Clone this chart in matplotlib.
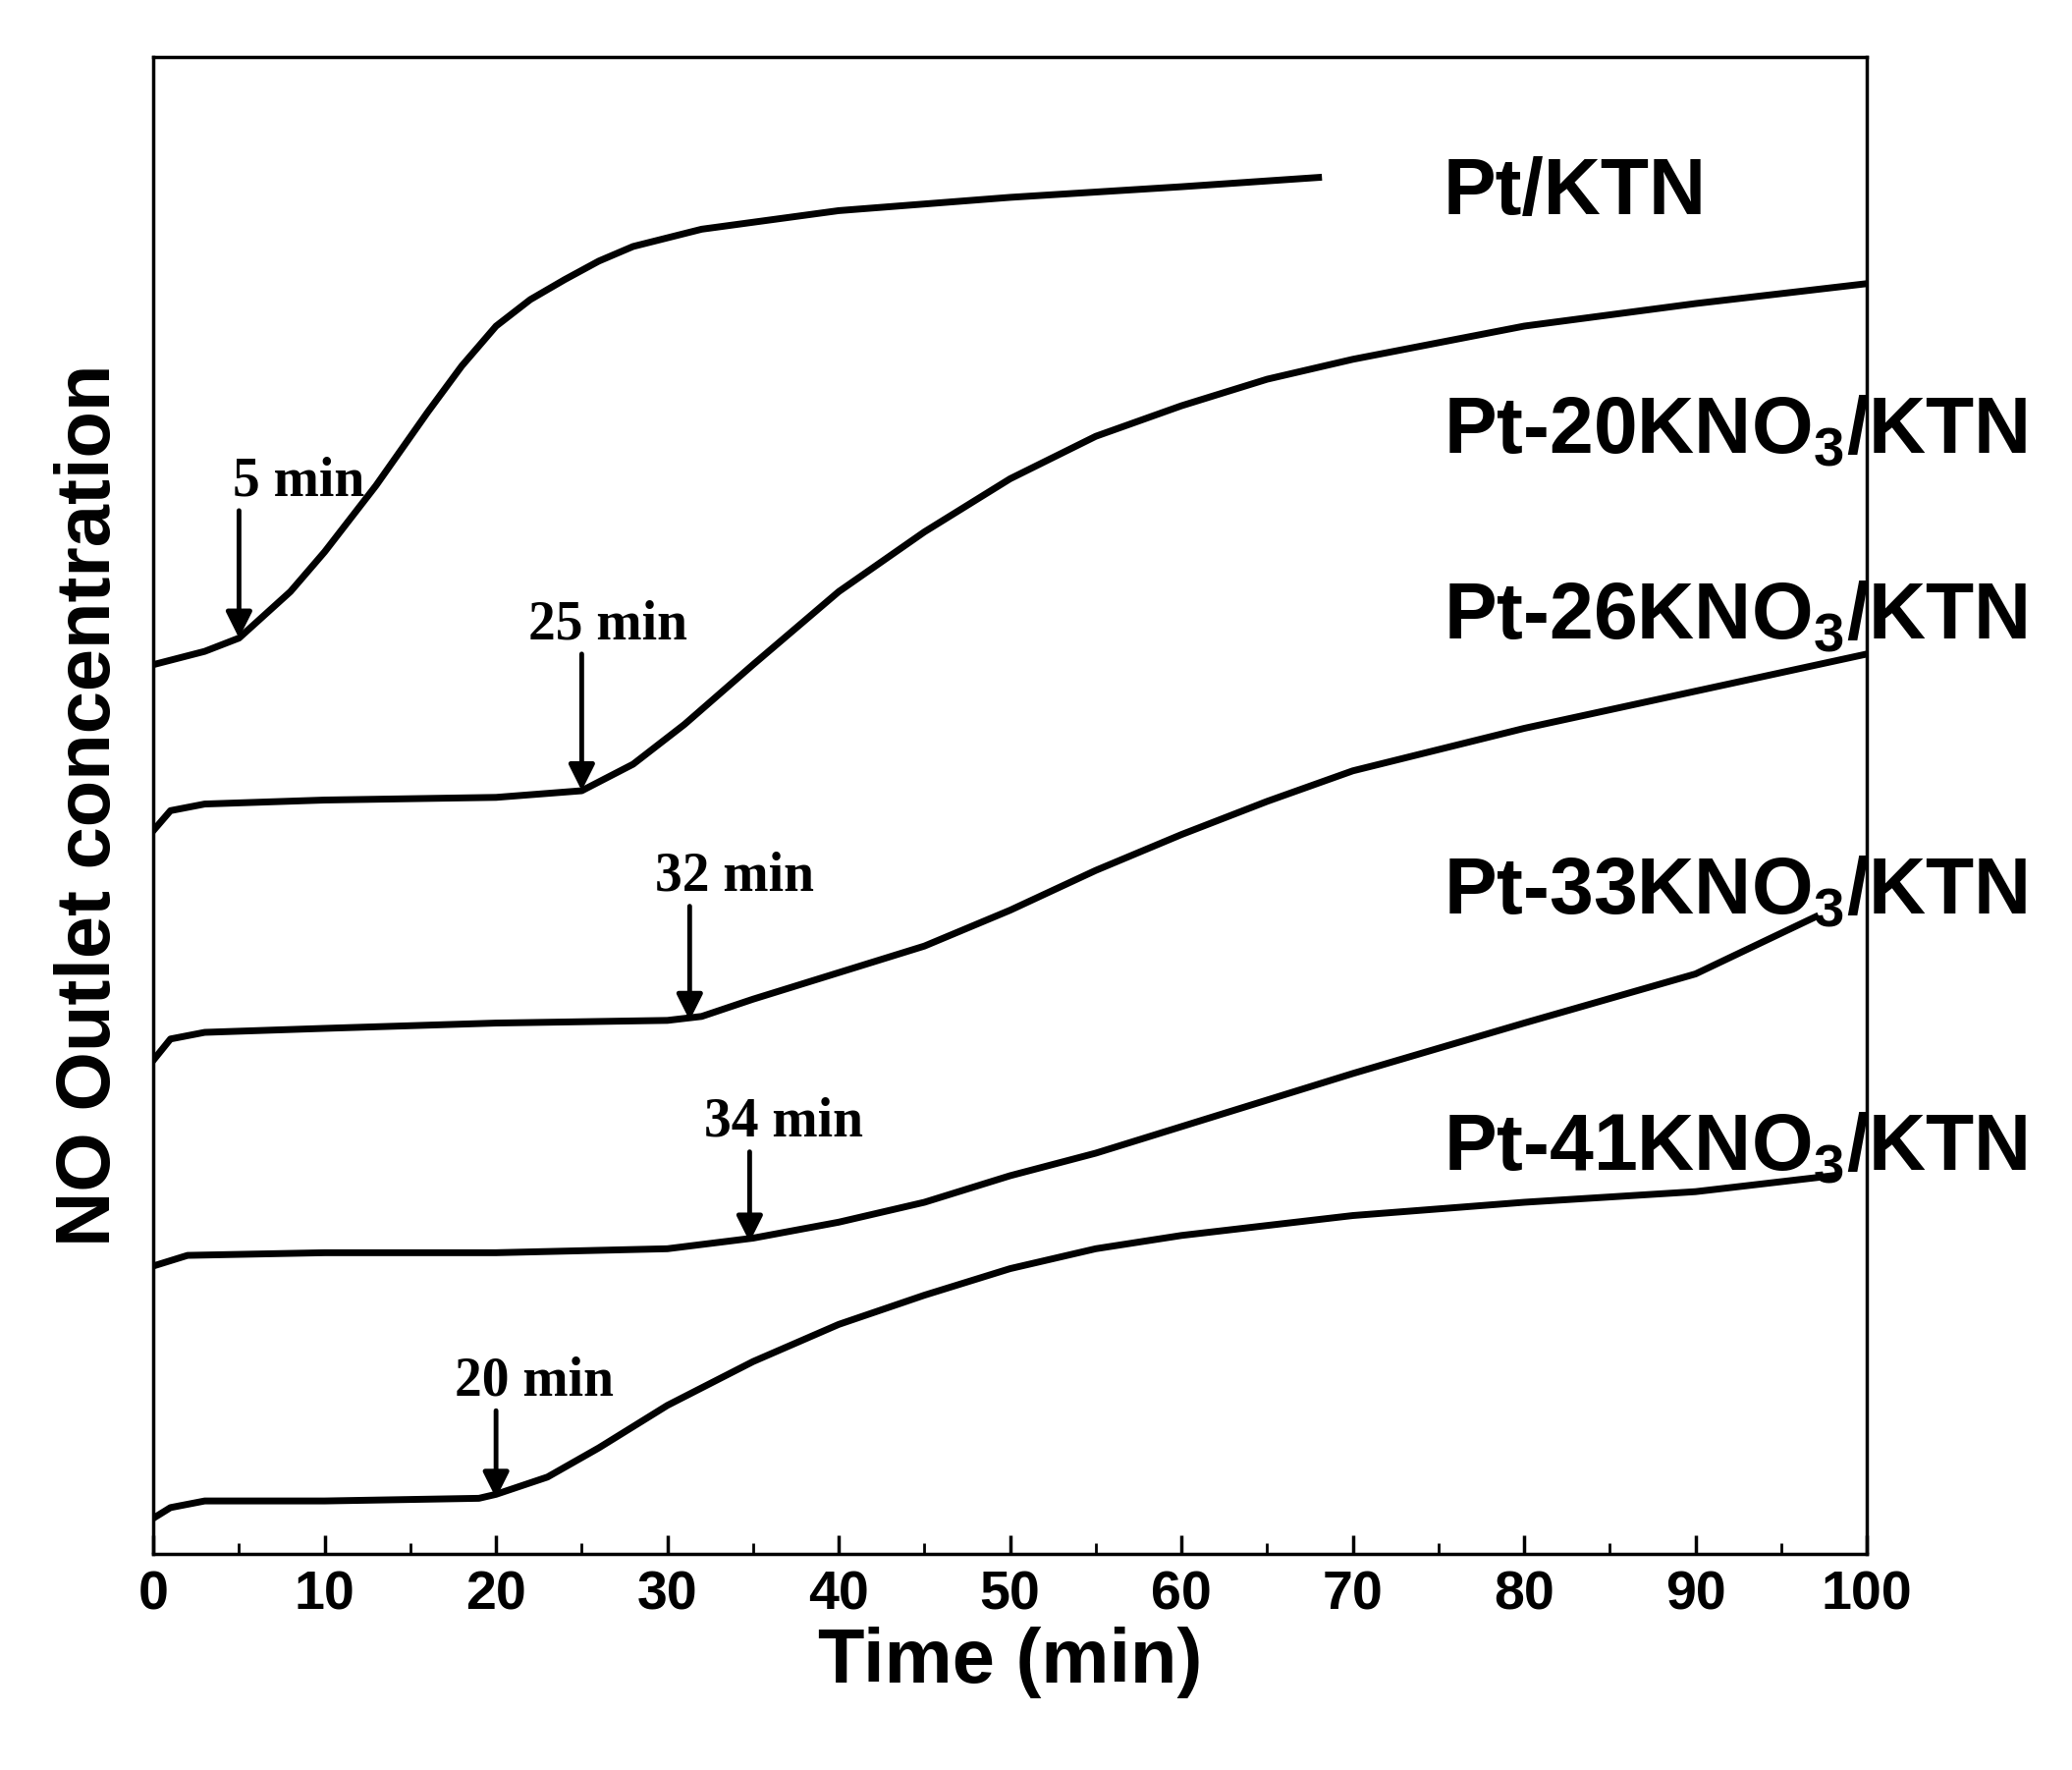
import matplotlib.pyplot as plt
from matplotlib.ticker import MultipleLocator

# curve values in arbitrary units (0 = axis bottom)
H = 1170
t_ktn = [0, 3, 5, 8, 10, 13, 16, 18, 20, 22, 24, 26, 28, 32, 36, 40, 50, 60, 68]
y_ktn = [500, 490, 480, 445, 415, 365, 310, 275, 245, 225, 210, 196, 185, 172, 165, 158, 148, 140, 133]
t_20 = [0, 1, 3, 10, 20, 25, 28, 31, 35, 40, 45, 50, 55, 60, 65, 70, 80, 90, 100]
y_20 = [625, 610, 605, 602, 600, 595, 575, 545, 500, 445, 400, 360, 328, 305, 285, 270, 245, 228, 213]
t_26 = [0, 1, 3, 10, 20, 30, 32, 35, 40, 45, 50, 55, 60, 65, 70, 80, 90, 100]
y_26 = [798, 782, 777, 774, 770, 768, 765, 752, 732, 712, 685, 655, 628, 603, 580, 548, 520, 492]
t_33 = [0, 2, 10, 20, 30, 35, 40, 45, 50, 55, 60, 65, 70, 80, 90, 97]
y_33 = [953, 945, 943, 943, 940, 932, 920, 905, 885, 868, 848, 828, 808, 770, 733, 690]
t_41 = [0, 1, 3, 10, 19, 20, 23, 26, 30, 35, 40, 45, 50, 55, 60, 70, 80, 90, 98]
y_41 = [1143, 1135, 1130, 1130, 1128, 1125, 1112, 1090, 1058, 1025, 997, 975, 955, 940, 930, 915, 905, 897, 885]

curves = [(t_ktn, y_ktn), (t_20, y_20), (t_26, y_26), (t_33, y_33), (t_41, y_41)]

# annotation: text, text x, text y, tip x, tip y
notes = [("5 min", 8.5, 362, 5, 480),
         ("25 min", 26.5, 470, 25, 595),
         ("32 min", 33.9, 660, 31.3, 768),
         ("34 min", 36.8, 845, 34.8, 935),
         ("20 min", 22.2, 1040, 20, 1128)]

labels = [("Pt/KTN", 145), ("Pt-20KNO$_3$/KTN", 325), ("Pt-26KNO$_3$/KTN", 465),
          ("Pt-33KNO$_3$/KTN", 672), ("Pt-41KNO$_3$/KTN", 865)]

plt.rcParams['font.family'] = 'Liberation Sans'
plt.rcParams['mathtext.fontset'] = 'custom'
plt.rcParams['mathtext.rm'] = 'Liberation Sans:bold'

fig = plt.figure(figsize=(21.1, 18.02), dpi=100)
ax = fig.add_axes([0.074, 0.122, 0.827, 0.846])

for t, y in curves:
    ax.plot(t, [H - v for v in y], color='black', lw=5)

for txt, tx, ty, px, py in notes:
    ax.text(tx, H - ty, txt, ha='center', va='center', fontsize=40,
            fontweight='bold', family='Liberation Serif')
    ax.annotate('', xy=(px, H - py), xytext=(px, H - ty - 22),
                arrowprops=dict(arrowstyle='-|>', color='black', lw=3.5,
                                mutation_scale=40, shrinkA=0, shrinkB=0))

for txt, py in labels:
    ax.text(75.3, H - py, txt, fontsize=58, fontweight='bold',
            va='center', ha='left', clip_on=False)

ax.set_xlim(0, 100)
ax.set_ylim(0, 1128)
ax.xaxis.set_major_locator(MultipleLocator(10))
ax.xaxis.set_minor_locator(MultipleLocator(5))
ax.set_yticks([])
ax.tick_params(axis='x', which='major', direction='in', length=14, width=2.5,
               labelsize=40, pad=12)
ax.tick_params(axis='x', which='minor', direction='in', length=8, width=2)
for lab in ax.get_xticklabels():
    lab.set_fontweight('bold')
for s in ax.spines.values():
    s.set_linewidth(2.5)

ax.set_xlabel('Time (min)', fontsize=56, fontweight='bold', labelpad=4)
ax.set_ylabel('NO Outlet concentration', fontsize=56, fontweight='bold', labelpad=20)

fig.savefig('out.png')
